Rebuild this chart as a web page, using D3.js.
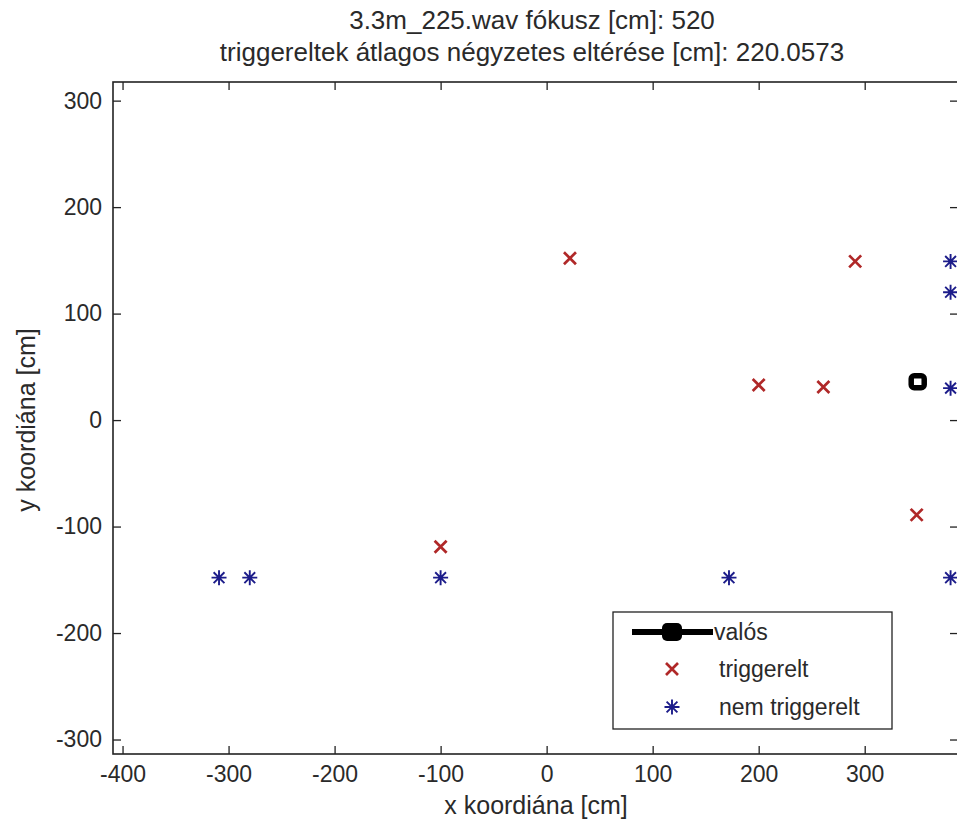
<!DOCTYPE html>
<html>
<head>
<meta charset="utf-8">
<script src="https://cdn.jsdelivr.net/npm/d3@7"></script>
<style>
  body { margin: 0; background: #fff; }
  svg { display: block; }
  text { font-family: "Liberation Sans", Arial, sans-serif; fill: #2a2a2a; }
</style>
</head>
<body>
<div id="area"></div>
<script>
var width = 957;
var height = 829;

// data
var titleLines = ["3.3m_225.wav  fókusz [cm]: 520",
                  "triggereltek átlagos négyzetes eltérése [cm]: 220.0573"];
var xTicks = [-400, -300, -200, -100, 0, 100, 200, 300];
var yTicks = [-300, -200, -100, 0, 100, 200, 300];
var valosX = [350];
var valosY = [36];
var trigX = [22, 291, 200, 261, 349, -100];
var trigY = [152, 149, 33, 31, -89, -119];
var nemX = [-309, -280, -100, 172, 381, 381, 381, 381];
var nemY = [-148, -148, -148, -148, -148, 149, 120, 30];
var legendLabels = ["valós", "triggerelt", "nem triggerelt"];

// plot box (right edge lies just outside the window, like in the picture)
var mLeft = 113, mRight = 958, mTop = 82, mBottom = 754;

var x = d3.scaleLinear().domain([-409, 388]).range([mLeft, mRight]);
var y = d3.scaleLinear().domain([-313.6, 317.5]).range([mBottom, mTop]);

var svg = d3.select("#area").append("svg")
    .attr("width", width)
    .attr("height", height);

svg.append("rect")
    .attr("width", "100%")
    .attr("height", "100%")
    .attr("fill", "#fff");

// title
svg.selectAll(".title")
    .data(titleLines)
    .enter().append("text")
    .attr("class", "title")
    .attr("x", 532)
    .attr("y", function(d, i) { return 29 + i * 32; })
    .attr("text-anchor", "middle")
    .style("font-size", "26px")
    .text(function(d) { return d; });

// axes, ticks inward
function styleAxis(g) {
    g.select(".domain").remove();
    g.selectAll("line").attr("stroke", "#222").attr("stroke-width", 1.3);
    g.selectAll("text")
        .style("font-size", "23px")
        .style("font-family", "Liberation Sans, Arial, sans-serif")
        .attr("fill", "#2a2a2a");
}
var plain = function(d) { return String(d); };

svg.append("g")
    .attr("transform", "translate(0," + mBottom + ")")
    .call(d3.axisBottom(x).tickValues(xTicks).tickSize(-8).tickSizeOuter(0).tickPadding(12).tickFormat(plain))
    .call(styleAxis);

svg.append("g")
    .attr("transform", "translate(0," + mTop + ")")
    .call(d3.axisTop(x).tickValues(xTicks).tickSize(-8).tickSizeOuter(0).tickFormat(""))
    .call(styleAxis);

svg.append("g")
    .attr("transform", "translate(" + mLeft + ",0)")
    .call(d3.axisLeft(y).tickValues(yTicks).tickSize(-8).tickSizeOuter(0).tickPadding(11).tickFormat(plain))
    .call(styleAxis);

svg.append("g")
    .attr("transform", "translate(" + mRight + ",0)")
    .call(d3.axisRight(y).tickValues(yTicks).tickSize(-8).tickSizeOuter(0).tickFormat(""))
    .call(styleAxis);

svg.append("rect") // frame
    .attr("x", mLeft)
    .attr("y", mTop)
    .attr("width", mRight - mLeft)
    .attr("height", mBottom - mTop)
    .attr("fill", "none")
    .attr("stroke", "#222")
    .attr("stroke-width", 1.6);

// axis labels
svg.append("text")
    .attr("x", 536)
    .attr("y", 814)
    .attr("text-anchor", "middle")
    .style("font-size", "25px")
    .text("x koordiána [cm]");

svg.append("text")
    .attr("transform", "translate(35,420) rotate(-90)")
    .attr("text-anchor", "middle")
    .style("font-size", "25px")
    .text("y koordiána [cm]");

// markers
function crossPath(s) {
    return "M" + (-s) + "," + (-s) + "L" + s + "," + s + "M" + (-s) + "," + s + "L" + s + "," + (-s);
}
function starPath(s) {
    var d = s * 0.72;
    return "M" + (-s) + ",0L" + s + ",0M0," + (-s) + "L0," + s +
        "M" + (-d) + "," + (-d) + "L" + d + "," + d + "M" + (-d) + "," + d + "L" + d + "," + (-d);
}

var plot = svg.append("g");

plot.selectAll(".trig")
    .data(trigX)
    .enter().append("path")
    .attr("class", "trig")
    .attr("transform", function(d, i) { return "translate(" + x(d) + "," + y(trigY[i]) + ")"; })
    .attr("d", crossPath(6))
    .attr("stroke", "#b02828")
    .attr("stroke-width", 2.7)
    .attr("fill", "none");

plot.selectAll(".nem")
    .data(nemX)
    .enter().append("path")
    .attr("class", "nem")
    .attr("transform", function(d, i) { return "translate(" + x(d) + "," + y(nemY[i]) + ")"; })
    .attr("d", starPath(7.5))
    .attr("stroke", "#1c1c8a")
    .attr("stroke-width", 1.9)
    .attr("fill", "none");

plot.selectAll(".valos")
    .data(valosX)
    .enter().append("rect")
    .attr("class", "valos")
    .attr("x", function(d) { return x(d) - 6.5; })
    .attr("y", function(d, i) { return y(valosY[i]) - 6; })
    .attr("width", 13)
    .attr("height", 12)
    .attr("rx", 3)
    .attr("fill", "#fff")
    .attr("stroke", "#000")
    .attr("stroke-width", 5.5);

// legend
var lg = svg.append("g").attr("transform", "translate(613,612)");
lg.append("rect")
    .attr("width", 279)
    .attr("height", 117)
    .attr("fill", "#fff")
    .attr("stroke", "#222")
    .attr("stroke-width", 1.3);

var rowY = [20, 57, 95];
lg.append("line")
    .attr("x1", 19).attr("x2", 100)
    .attr("y1", rowY[0]).attr("y2", rowY[0])
    .attr("stroke", "#000").attr("stroke-width", 6);
lg.append("rect")
    .attr("x", 49).attr("y", rowY[0] - 9)
    .attr("width", 20).attr("height", 18)
    .attr("rx", 5)
    .attr("fill", "#000");
lg.append("path")
    .attr("transform", "translate(59," + rowY[1] + ")")
    .attr("d", crossPath(6))
    .attr("stroke", "#b02828").attr("stroke-width", 2.7);
lg.append("path")
    .attr("transform", "translate(59," + rowY[2] + ")")
    .attr("d", starPath(7.5))
    .attr("stroke", "#1c1c8a").attr("stroke-width", 1.9);

lg.selectAll(".lgtext")
    .data(legendLabels)
    .enter().append("text")
    .attr("class", "lgtext")
    .attr("x", function(d, i) { return i === 0 ? 101 : 106; })
    .attr("y", function(d, i) { return rowY[i] + 8; })
    .style("font-size", "23px")
    .text(function(d) { return d; });
</script>
</body>
</html>
